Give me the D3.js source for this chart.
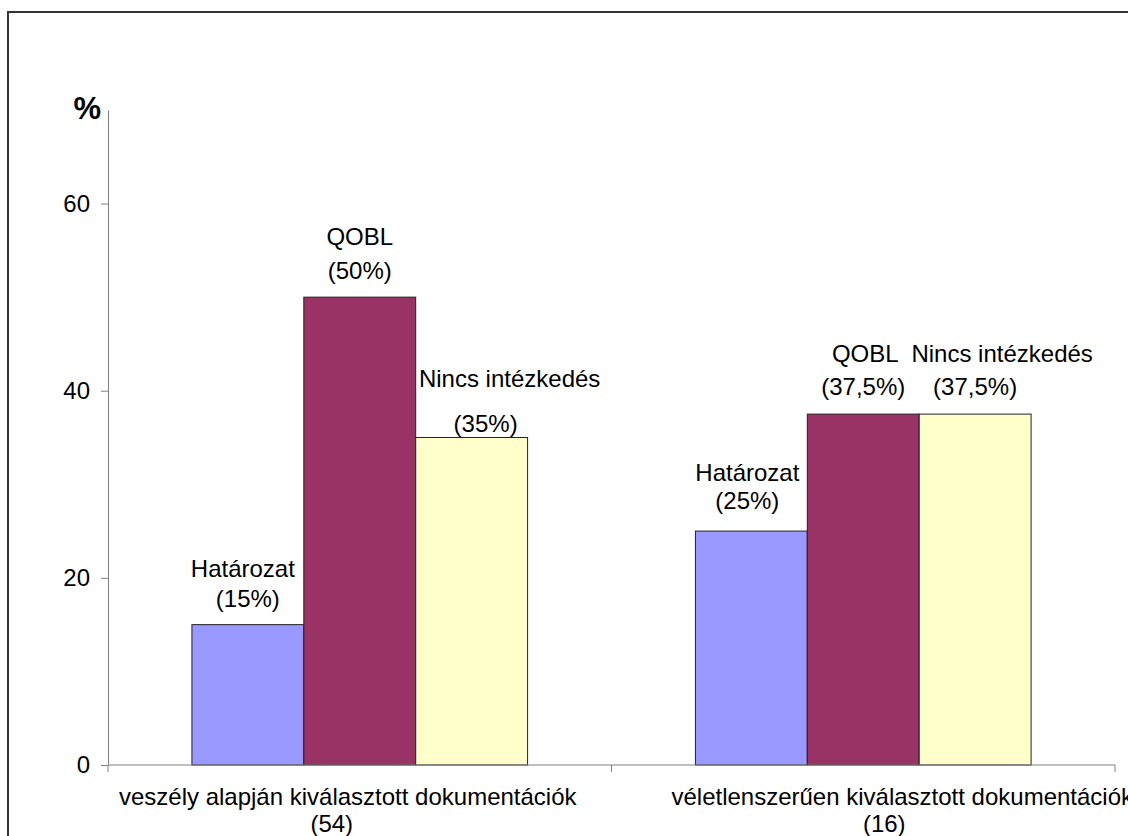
<!DOCTYPE html>
<html>
<head>
<meta charset="utf-8">
<script src="https://cdn.jsdelivr.net/npm/d3@7"></script>
<style>
  body { margin: 0; background: #fff; }
  svg { display: block; font-family: "Liberation Sans", Arial, sans-serif; }
</style>
</head>
<body>
<svg id="chart" width="1128" height="836"></svg>
<script>
// adatok
var categories = ["veszély alapján kiválasztott dokumentációk", "véletlenszerűen kiválasztott dokumentációk"];
var categoryCounts = ["(54)", "(16)"];
var seriesNames = ["Határozat", "QOBL", "Nincs intézkedés"];
var hatarozat = [15, 25];
var qobl = [50, 37.5];
var nincs = [35, 37.5];
var yTicks = [0, 20, 40, 60];
var seriesColors = ["#9999FF", "#993366", "#FFFFCC"];

// címkék eltolása (csak elrendezés) [dx1, dy1, dx2, dy2]
var labelShift = [
    [[-5, -48, 0, -18], [0, -52, 0, -18], [38, -51, 14, -6]],
    [[-4, -50, -4, -22], [2, -52, 0, -19], [27, -52, 0, -19]]
];
var catShift = [[-12, -28], [39, 21]];

var svg = d3.select("#chart");

var plot = { left: 108, right: 1115, top: 110, bottom: 765 };

var values = [hatarozat, qobl, nincs];
var data = categories.map((c, i) => ({
    cat: c,
    count: categoryCounts[i],
    bars: seriesNames.map((s, j) => ({ name: s, value: values[j][i], j: j, i: i }))
}));

var x0 = d3.scaleBand().domain(categories).range([plot.left, plot.right]);
var bw = x0.bandwidth();
var x1 = d3.scaleBand().domain(seriesNames).range([bw / 6, bw * 5 / 6]);
var y = d3.scaleLinear().domain([0, 70]).range([plot.bottom, plot.top]);

var fmt = v => String(v).replace(".", ",");

// keret
svg.append("rect")
    .attr("x", 8).attr("y", 12)
    .attr("width", 1300).attr("height", 1000)
    .attr("fill", "none")
    .attr("stroke", "#333")
    .attr("stroke-width", 2);

// oszlopok
var groups = svg.append("g").selectAll("g")
    .data(data)
    .join("g")
    .attr("transform", d => `translate(${x0(d.cat)},0)`);

groups.selectAll("rect")
    .data(d => d.bars)
    .join("rect")
    .attr("x", d => x1(d.name))
    .attr("y", d => y(d.value))
    .attr("width", x1.bandwidth())
    .attr("height", d => y(0) - y(d.value))
    .attr("fill", d => seriesColors[d.j])
    .attr("stroke", "#222")
    .attr("stroke-width", 1);

// oszlopcímkék
var lbl = groups.selectAll("g.lbl")
    .data(d => d.bars)
    .join("g")
    .attr("class", "lbl")
    .attr("font-size", 24)
    .attr("text-anchor", "middle");

lbl.append("text")
    .attr("x", d => x1(d.name) + x1.bandwidth() / 2 + labelShift[d.i][d.j][0])
    .attr("y", d => y(d.value) + labelShift[d.i][d.j][1])
    .text(d => d.name);

lbl.append("text")
    .attr("x", d => x1(d.name) + x1.bandwidth() / 2 + labelShift[d.i][d.j][2])
    .attr("y", d => y(d.value) + labelShift[d.i][d.j][3])
    .text(d => "(" + fmt(d.value) + "%)");

// y tengely
var yAxis = svg.append("g")
    .attr("transform", `translate(${plot.left},0)`)
    .call(d3.axisLeft(y).tickValues(yTicks).tickSize(7).tickSizeOuter(0).tickPadding(11));
yAxis.select(".domain").attr("stroke", "#808080");
yAxis.selectAll(".tick line").attr("stroke", "#808080");
yAxis.selectAll(".tick text")
    .attr("font-size", 24)
    .attr("font-family", "Liberation Sans, Arial, sans-serif")
    .attr("fill", "#000");

svg.append("text")
    .attr("x", plot.left - 7)
    .attr("y", 119)
    .attr("text-anchor", "end")
    .attr("font-size", 31)
    .attr("font-weight", "bold")
    .text("%");

// x tengely
var xg = svg.append("g");
xg.append("line")
    .attr("x1", plot.left).attr("x2", plot.right)
    .attr("y1", y(0)).attr("y2", y(0))
    .attr("stroke", "#808080");
var bounds = [plot.left].concat(categories.map(c => x0(c) + bw));
xg.selectAll("line.tk")
    .data(bounds)
    .join("line")
    .attr("class", "tk")
    .attr("x1", d => d).attr("x2", d => d)
    .attr("y1", y(0)).attr("y2", y(0) + 7)
    .attr("stroke", "#808080");

var cl = xg.selectAll("g.cat")
    .data(data)
    .join("g")
    .attr("class", "cat")
    .attr("font-size", 24)
    .attr("text-anchor", "middle");

cl.append("text")
    .attr("x", (d, i) => x0(d.cat) + bw / 2 + catShift[i][0])
    .attr("y", y(0) + 40)
    .text(d => d.cat);

cl.append("text")
    .attr("x", (d, i) => x0(d.cat) + bw / 2 + catShift[i][1])
    .attr("y", y(0) + 67)
    .text(d => d.count);
</script>
</body>
</html>
